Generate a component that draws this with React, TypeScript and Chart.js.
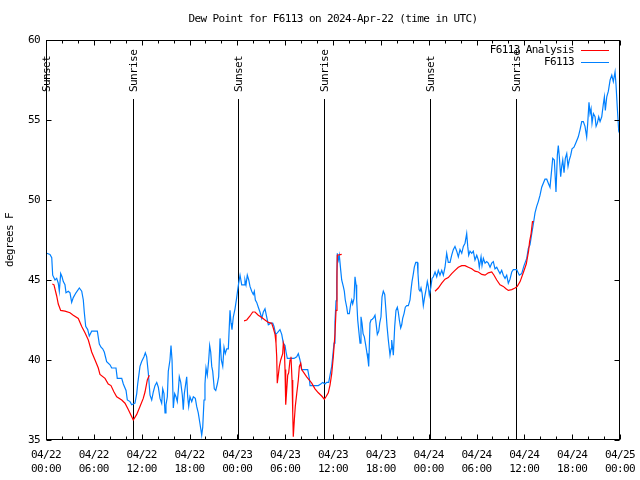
import React, { useEffect, useRef } from 'react';
import { Chart, registerables } from 'chart.js';

Chart.register(...registerables);

const TITLE = 'Dew Point for F6113 on 2024-Apr-22 (time in UTC)';
const Y_LABEL = 'degrees F';
const FONT_FAMILY = "'DejaVu Sans Mono', 'Liberation Mono', monospace";
const FONT_SIZE = 11;

const yTicks = [35, 40, 45, 50, 55, 60];
const xTickHours = [0, 6, 12, 18, 24, 30, 36, 42, 48, 54, 60, 66, 72];
const xTickDates = ['04/22', '04/22', '04/22', '04/22', '04/23', '04/23', '04/23', '04/23', '04/24', '04/24', '04/24', '04/24', '04/25'];
const xTickTimes = ['00:00', '06:00', '12:00', '18:00', '00:00', '06:00', '12:00', '18:00', '00:00', '06:00', '12:00', '18:00', '00:00'];

const eventHours = [0.05, 10.9, 24.1, 34.9, 48.15, 58.95];
const eventLabels = ['Sunset', 'Sunrise', 'Sunset', 'Sunrise', 'Sunset', 'Sunrise'];

const seriesNames = ['F6113 Analysis', 'F6113'];
const seriesColors = ['rgb(255,0,0)', 'rgb(0,128,255)'];

// Observations (hours since 04/22 00:00 UTC)
const obsHours = [
  0.09, 0.50, 0.72, 0.84, 1.13, 1.34, 1.54, 1.67, 1.84, 2.01,
  2.17, 2.38, 2.51, 2.80, 3.01, 3.22, 3.42, 3.76, 4.18, 4.48,
  4.68, 4.80, 4.98, 5.23, 5.43, 5.73, 5.93, 6.44, 6.69, 6.90,
  7.11, 7.31, 7.61, 8.03, 8.24, 8.78, 8.94, 9.50, 9.70, 10.04,
  10.20, 10.54, 10.75, 10.95, 11.16, 11.38, 11.50, 11.79, 12.00, 12.29,
  12.46, 12.63, 12.71, 12.83, 13.05, 13.26, 13.46, 13.67, 13.89, 14.09,
  14.30, 14.51, 14.64, 14.80, 14.93, 15.05, 15.22, 15.34, 15.55, 15.68,
  15.81, 15.97, 16.14, 16.31, 16.47, 16.60, 16.72, 16.90, 17.10, 17.22,
  17.35, 17.52, 17.65, 17.77, 17.90, 18.06, 18.28, 18.48, 18.73, 18.90,
  19.10, 19.32, 19.53, 19.66, 19.82, 19.94, 20.07, 20.23, 20.41, 20.53,
  20.66, 20.79, 20.91, 21.11, 21.29, 21.49, 21.66, 21.83, 21.99, 22.17,
  22.33, 22.49, 22.67, 22.87, 23.08, 23.21, 23.33, 23.50, 23.71, 23.92,
  24.05, 24.17, 24.34, 24.55, 24.84, 24.96, 25.09, 25.25, 25.43, 25.59,
  25.80, 26.00, 26.13, 26.26, 26.43, 26.63, 26.84, 27.06, 27.26, 27.47,
  27.68, 27.89, 28.19, 28.44, 28.60, 28.81, 29.01, 29.19, 29.35, 29.57,
  29.77, 29.98, 30.11, 30.27, 31.11, 31.45, 31.65, 31.86, 32.07, 32.83,
  33.03, 33.12, 34.16, 34.46, 34.71, 35.00, 35.21, 35.46, 35.63, 35.84,
  36.04, 36.13, 36.25, 36.38, 36.47, 36.54, 36.67, 36.79, 36.97, 37.09,
  37.29, 37.42, 37.54, 37.72, 37.84, 38.05, 38.22, 38.35, 38.47, 38.64,
  38.76, 38.89, 38.97, 39.10, 39.22, 39.39, 39.51, 39.64, 39.77, 39.93,
  40.10, 40.27, 40.39, 40.48, 40.64, 40.77, 40.93, 41.11, 41.27, 41.40,
  41.56, 41.74, 41.86, 42.02, 42.15, 42.31, 42.49, 42.61, 42.78, 42.94,
  43.06, 43.15, 43.28, 43.36, 43.49, 43.57, 43.74, 43.90, 44.07, 44.19,
  44.32, 44.49, 44.62, 44.74, 44.91, 45.07, 45.25, 45.45, 45.66, 45.79,
  45.91, 46.08, 46.20, 46.38, 46.58, 46.66, 46.79, 46.92, 47.04, 47.17,
  47.33, 47.50, 47.67, 47.83, 47.96, 48.08, 48.26, 48.42, 48.59, 48.80,
  49.01, 49.21, 49.42, 49.64, 49.84, 50.05, 50.26, 50.46, 50.68, 50.89,
  51.09, 51.30, 51.52, 51.72, 51.93, 52.15, 52.35, 52.56, 52.77, 52.90,
  53.02, 53.19, 53.40, 53.60, 53.81, 54.03, 54.23, 54.35, 54.57, 54.69,
  54.86, 55.07, 55.28, 55.48, 55.70, 55.91, 56.11, 56.32, 56.54, 56.74,
  56.95, 57.16, 57.36, 57.58, 57.79, 57.99, 58.20, 58.42, 58.62, 59.04,
  59.37, 59.67, 59.96, 60.30, 60.50, 60.71, 60.93, 61.13, 61.34, 61.55,
  61.75, 61.97, 62.18, 62.38, 62.59, 62.81, 63.01, 63.22, 63.43, 63.56,
  63.76, 63.97, 64.14, 64.26, 64.39, 64.56, 64.69, 64.82, 64.98, 65.14,
  65.32, 65.48, 65.64, 65.82, 65.98, 66.23, 66.48, 66.77, 66.99, 67.20,
  67.40, 67.61, 67.82, 67.95, 68.11, 68.24, 68.37, 68.49, 68.66, 68.87,
  69.00, 69.16, 69.33, 69.50, 69.71, 69.91, 70.04, 70.16, 70.34, 70.54,
  70.76, 70.97, 71.16, 71.38, 71.50, 71.67, 71.84, 72.00,
];
const obsValues = [
  46.67, 46.6, 46.4, 45.3, 45.0, 45.1, 44.8, 44.3, 45.4, 45.2,
  44.9, 44.7, 44.2, 44.3, 44.2, 43.6, 43.9, 44.2, 44.5, 44.3,
  43.75, 43.0, 42.1, 41.9, 41.5, 41.8, 41.8, 41.8, 41.0, 40.8,
  40.7, 40.5, 39.9, 39.7, 39.5, 39.5, 38.85, 38.85, 38.5, 38.1,
  37.5, 37.4, 37.2, 37.25, 37.3, 37.9, 38.5, 39.6, 39.9, 40.2,
  40.45, 40.2, 39.8, 39.2, 37.8, 37.5, 38.0, 38.4, 38.6, 38.3,
  37.6, 37.3, 38.2, 37.9, 36.7, 37.2, 37.7, 39.3, 40.0, 40.9,
  40.0, 37.0, 37.9, 37.7, 37.4, 38.1, 38.95, 38.6, 37.8, 36.9,
  37.9, 38.5, 38.95, 37.7, 37.1, 37.7, 37.4, 37.7, 37.6, 37.1,
  36.7, 36.0, 35.3, 35.8, 37.5, 38.5, 39.5, 39.05, 40.0, 40.9,
  40.5, 39.6, 39.3, 38.2, 38.1, 38.5, 38.95, 41.35, 40.0, 39.6,
  40.8, 40.4, 40.7, 40.7, 43.1, 42.3, 41.9, 42.7, 43.2, 43.9,
  44.4, 44.8, 45.3, 44.7, 44.7, 45.0, 44.7, 45.3, 45.0, 44.6,
  44.3, 44.1, 44.3, 43.75, 43.6, 43.3, 43.0, 42.6, 43.0, 43.2,
  42.7, 42.2, 42.3, 42.3, 42.1, 41.6, 41.7, 41.8, 41.9, 41.6,
  41.05, 40.9, 40.5, 40.1, 40.1, 40.2, 40.4, 40.0, 39.4, 39.4,
  38.85, 38.4, 38.4, 38.5, 38.6, 38.5, 38.6, 38.6, 39.05, 39.6,
  40.6, 41.05, 42.4, 43.7, 44.8, 46.67, 46.25, 46.55, 45.6, 45.0,
  44.6, 44.3, 43.75, 43.3, 42.9, 42.9, 43.5, 43.75, 43.5, 43.85,
  45.2, 44.7, 43.75, 42.5, 41.9, 41.05, 42.7, 42.3, 41.65, 41.45,
  40.95, 40.4, 40.0, 39.6, 42.3, 42.5, 42.55, 42.65, 42.8, 42.3,
  41.6, 41.8, 42.3, 42.7, 43.95, 44.3, 44.1, 43.3, 42.1, 41.25,
  40.7, 40.3, 40.7, 41.25, 40.7, 40.3, 42.1, 43.1, 43.3, 43.0,
  42.5, 42.0, 42.2, 42.6, 42.9, 43.3, 43.4, 43.4, 43.75, 44.4,
  44.9, 45.4, 45.8, 46.1, 46.1, 45.4, 44.4, 44.3, 44.5, 44.2,
  43.4, 43.95, 44.4, 44.9, 44.6, 44.05, 44.5, 45.1, 45.2, 45.5,
  45.2, 45.6, 45.3, 45.6, 45.3, 45.8, 46.67, 46.1, 46.1, 46.55,
  46.9, 47.1, 46.8, 46.45, 46.9, 46.67, 47.1, 47.3, 47.9, 47.1,
  46.55, 46.8, 46.67, 46.8, 46.25, 46.55, 46.25, 45.8, 46.45, 45.9,
  46.35, 46.05, 46.15, 46.05, 45.8, 46.05, 46.15, 45.7, 45.8, 45.6,
  45.4, 45.6, 45.3, 45.1, 45.3, 44.8, 45.05, 45.5, 45.65, 45.65,
  45.3, 45.4, 45.9, 46.35, 46.98, 47.2, 47.9, 48.5, 49.2, 49.6,
  49.9, 50.3, 50.8, 51.05, 51.3, 51.3, 51.05, 50.8, 51.9, 52.6,
  52.5, 50.5, 52.8, 53.4, 52.7, 51.45, 52.1, 52.5, 51.7, 52.6,
  52.9, 52.1, 52.5, 52.8, 53.2, 53.3, 53.6, 53.95, 54.4, 54.9,
  54.9, 54.6, 53.95, 54.8, 56.1, 55.4, 55.7, 54.8, 55.4, 55.2,
  54.6, 54.8, 55.2, 54.9, 55.2, 56.0, 56.45, 55.6, 56.45, 56.8,
  57.5, 57.8, 57.4, 58.0, 57.2, 55.7, 54.3, 54.1,
];

// Analysis (null = gap between analysis runs)
const anaHours = [
  0.79, 1.00, 1.34, 1.54, 1.84, 2.38, 3.01, 3.42, 4.05, 4.48,
  4.89, 5.31, 5.73, 6.15, 6.56, 6.77, 7.40, 7.81, 8.15, 8.53,
  8.87, 9.50, 9.91, 10.32, 10.62, 10.95, 11.38, 11.79, 12.20, 12.42,
  12.71, 12.96,
  18.0,
  24.84, 25.18, 25.59, 25.93, 26.22, 26.63, 27.06, 27.47, 27.89, 28.31,
  28.51, 28.73, 28.85, 28.94, 29.01, 29.14, 29.27, 29.44, 29.57, 29.69,
  29.77, 29.89, 29.98, 30.07, 30.19, 30.32, 30.44, 30.61, 30.73, 30.86,
  30.95, 31.02, 31.15, 31.27, 31.45, 31.65, 31.78, 31.95, 32.07, 32.36,
  32.70, 33.03, 33.33, 33.74, 34.16, 34.58, 34.91, 35.12, 35.41, 35.63,
  35.84, 36.04, 36.25, 36.38, 36.50, 36.54, 37.09,
  42.0,
  48.80, 49.21, 49.64, 50.05, 50.46, 50.89, 51.30, 51.72, 52.15, 52.56,
  52.97, 53.40, 53.81, 54.23, 54.66, 55.07, 55.48, 55.91, 56.20, 56.54,
  56.95, 57.36, 57.70, 57.99, 58.42, 58.83, 59.12, 59.47, 59.90, 60.24,
  60.53, 60.66, 60.85, 61.02, 61.18,
];
const anaValues = [
  44.75, 44.7, 44.0, 43.5, 43.1, 43.05, 42.95, 42.8, 42.6, 42.1,
  41.7, 41.25, 40.5, 40.0, 39.5, 39.1, 38.85, 38.5, 38.4, 38.0,
  37.7, 37.5, 37.3, 36.9, 36.6, 36.25, 36.6, 37.1, 37.6, 38.0,
  38.75, 39.05,
  null,
  42.45, 42.5, 42.75, 43.0, 43.0, 42.8, 42.65, 42.5, 42.35, 42.3,
  42.0, 41.6, 41.05, 40.2, 38.55, 39.05, 39.6, 40.0, 40.2, 40.4,
  41.05, 40.8, 39.4, 37.2, 38.1, 39.05, 39.2, 40.0, 40.2, 38.75,
  36.7, 35.2, 36.25, 37.1, 37.9, 38.75, 39.6, 39.8, 39.4, 39.2,
  38.95, 38.75, 38.55, 38.2, 37.95, 37.75, 37.55, 37.7, 37.95, 38.45,
  39.15, 40.2, 41.65, 43.1, 45.5, 46.55, 46.6,
  null,
  44.3, 44.5, 44.8, 45.05, 45.15, 45.4, 45.6, 45.8, 45.9, 45.9,
  45.8, 45.7, 45.55, 45.5, 45.35, 45.3, 45.45, 45.5, 45.3, 45.0,
  44.7, 44.6, 44.45, 44.35, 44.4, 44.5, 44.6, 44.9, 45.5, 46.0,
  46.8, 47.4, 47.9, 48.65, 48.65,
];

const fontMain = { family: FONT_FAMILY, size: FONT_SIZE };

const gnuplotDecor = {
  id: 'gnuplotDecor',
  beforeDraw(chart: any) {
    // narrow the monospace glyph advance to the reference's ~6px cell
    (chart.ctx as any).letterSpacing = '-0.6px';
  },
  beforeDatasetsDraw(chart: any) {
    const { ctx, chartArea: a, scales } = chart;
    const x = scales.x;
    ctx.save();
    ctx.strokeStyle = '#000';
    ctx.lineWidth = 1;
    eventHours.forEach((h) => {
      const px = Math.round(x.getPixelForValue(h)) + 0.5;
      ctx.beginPath();
      ctx.moveTo(px, a.top + 59);
      ctx.lineTo(px, a.bottom);
      ctx.stroke();
    });
    ctx.restore();
  },
  afterDraw(chart: any) {
    const { ctx, chartArea: a, scales } = chart;
    const x = scales.x;
    const y = scales.y;
    const L = Math.round(a.left) + 0.5;
    const R = Math.round(a.right) - 0.5;
    const T = Math.round(a.top) + 0.5;
    const B = Math.round(a.bottom) - 0.5;
    ctx.save();
    ctx.strokeStyle = '#000';
    ctx.lineWidth = 1;
    ctx.strokeRect(L, T, R - L, B - T);
    yTicks.forEach((v) => {
      const py = Math.round(y.getPixelForValue(v)) + 0.5;
      ctx.beginPath();
      ctx.moveTo(L, py); ctx.lineTo(L + 5, py);
      ctx.moveTo(R, py); ctx.lineTo(R - 5, py);
      ctx.stroke();
    });
    for (let h = 0; h <= 72; h += 2) {
      const px = Math.round(x.getPixelForValue(h)) + 0.5;
      const len = h % 6 === 0 ? 5 : 3;
      ctx.beginPath();
      ctx.moveTo(px, B); ctx.lineTo(px, B - len);
      ctx.moveTo(px, T); ctx.lineTo(px, T + len);
      ctx.stroke();
    }
    ctx.fillStyle = '#000';
    ctx.font = `${FONT_SIZE}px ${FONT_FAMILY}`;
    ctx.textAlign = 'center';
    ctx.textBaseline = 'middle';
    ctx.fillText(TITLE, (a.left + a.right) / 2, 19);
    ctx.textAlign = 'right';
    seriesNames.forEach((name, i) => {
      const ty = a.top + 10 + i * 12;
      ctx.fillStyle = '#000';
      ctx.fillText(name, a.right - 46, ty);
      ctx.strokeStyle = seriesColors[i];
      ctx.beginPath();
      ctx.moveTo(a.right - 39, Math.round(ty) + 0.5);
      ctx.lineTo(a.right - 11, Math.round(ty) + 0.5);
      ctx.stroke();
    });
    ctx.fillStyle = '#000';
    ctx.textAlign = 'left';
    ctx.textBaseline = 'middle';
    eventHours.forEach((h, i) => {
      const px = Math.round(x.getPixelForValue(h)) + 1.5;
      ctx.save();
      ctx.translate(px, a.top + 52);
      ctx.rotate(-Math.PI / 2);
      ctx.fillText(eventLabels[i], 0, 0);
      ctx.restore();
    });
    ctx.restore();
  },
};

export default function App() {
  const canvasRef = useRef<HTMLCanvasElement | null>(null);

  useEffect(() => {
    const canvas = canvasRef.current;
    if (!canvas) return;
    const obsData = obsHours.map((h, i) => ({ x: h, y: obsValues[i] }));
    const anaData = anaHours.map((h, i) => ({ x: h, y: anaValues[i] }));
    const chart = new Chart(canvas, {
      type: 'line',
      data: {
        datasets: [
          {
            label: seriesNames[0],
            data: anaData as any,
            borderColor: seriesColors[0],
            borderWidth: 1.2,
            pointRadius: 0,
            tension: 0,
            spanGaps: false,
            order: 0,
          },
          {
            label: seriesNames[1],
            data: obsData,
            borderColor: seriesColors[1],
            borderWidth: 1.2,
            pointRadius: 0,
            tension: 0,
            order: 1,
          },
        ],
      },
      options: {
        animation: false,
        responsive: false,
        devicePixelRatio: 1,
        layout: { padding: { top: 40, right: 20, left: 0, bottom: 0 } },
        plugins: {
          legend: { display: false },
          title: { display: false },
          tooltip: { enabled: false },
        },
        scales: {
          x: {
            type: 'linear',
            min: 0,
            max: 72,
            grid: { display: false, drawTicks: false },
            border: { display: false },
            ticks: {
              stepSize: 6,
              autoSkip: false,
              maxRotation: 0,
              padding: 8,
              color: '#000',
              font: { family: FONT_FAMILY, size: FONT_SIZE, lineHeight: 1.3 },
              callback: (v: any) => {
                const i = xTickHours.indexOf(Number(v));
                return i >= 0 ? [xTickDates[i], xTickTimes[i]] : '';
              },
            },
            afterFit: (s: any) => {
              s.height = 40;
              s.paddingLeft = 0;
              s.paddingRight = 0;
            },
          },
          y: {
            type: 'linear',
            min: 35,
            max: 60,
            grid: { display: false, drawTicks: false },
            border: { display: false },
            ticks: { stepSize: 5, padding: 6, color: '#000', font: fontMain },
            title: {
              display: true,
              text: Y_LABEL,
              color: '#000',
              font: fontMain,
              padding: { top: 4, bottom: 0 },
            },
            afterFit: (s: any) => {
              s.width = 46;
              s.paddingTop = 0;
              s.paddingBottom = 0;
            },
          },
        },
      },
      plugins: [gnuplotDecor],
    });
    return () => chart.destroy();
  }, []);

  return (
    <div style={{ position: 'fixed', left: 0, top: 0, width: 640, height: 480, background: '#fff' }}>
      <canvas ref={canvasRef} width={640} height={480} style={{ display: 'block', width: 640, height: 480 }} />
    </div>
  );
}
